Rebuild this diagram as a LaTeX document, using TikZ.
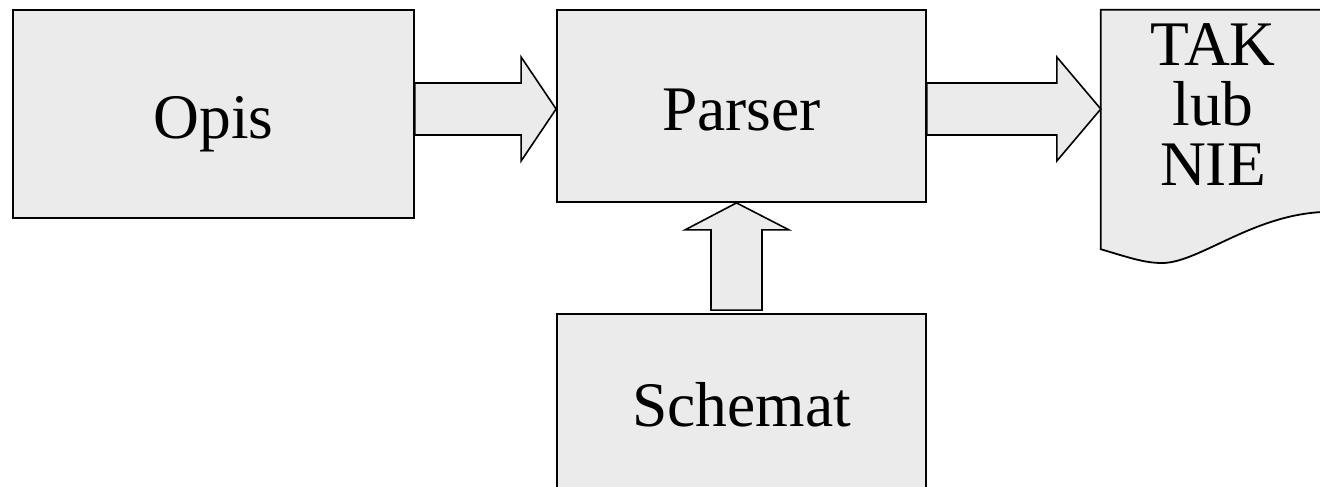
\documentclass[tikz,border=0pt]{standalone}
\usepackage{fontspec}
\setmainfont{Liberation Serif}
\usetikzlibrary{calc}
\definecolor{boxfill}{HTML}{EBEBEB}
\begin{document}
\begin{tikzpicture}[x=1pt,y=-1pt,
  bigfont/.style={font=\fontsize{63.5}{60}\selectfont},
  box/.style={draw=black, line width=1.8pt, fill=boxfill, rectangle, inner sep=0pt,
              text height=48pt, text depth=0pt, bigfont},
  blk/.style={draw=black, line width=1.6pt, fill=boxfill, line join=miter},
  lbl/.style={bigfont, inner sep=0pt, align=center}]
\useasboundingbox (0,0) rectangle (1320,487);

\node[box, minimum width=401pt, minimum height=208pt] (opis) at (213.5,114) {Opis};
\node[box, minimum width=369pt, minimum height=192pt] (parser) at (741.5,106) {Parser};
\node[box, minimum width=369pt, minimum height=176pt] (schemat) at (741.5,402) {Schemat};
\node[rectangle, inner sep=0pt, minimum width=229pt, minimum height=239pt] (doc) at (1215.5,129.5) {};

% document shape
\draw[box] (doc.south west) -- (doc.north west) -- (doc.north east)
  -- ($(doc.north east)+(0,202)$)
  .. controls (1255,212) and (1200,263) .. (1162,263)
  .. controls (1145,263) and (1130,258) .. (doc.south west) -- cycle;
\node[lbl, anchor=north] (dtext) at ($(doc.north)+(-2.5,14)$) {TAK\\lub\\NIE};

% block arrow Opis -> Parser
\draw[blk] let \p1=(opis.east), \p2=(parser.west) in
  (\x1,-83pt) -- (\x2-35pt,-83pt) -- (\x2-35pt,-57pt) -- (\x2,-109pt)
  -- (\x2-35pt,-161pt) -- (\x2-35pt,-135pt) -- (\x1,-135pt) -- cycle;

% block arrow Parser -> document
\draw[blk] let \p1=(parser.east), \p2=(doc.west) in
  (\x1,-83pt) -- (\x2-44pt,-83pt) -- (\x2-44pt,-57pt) -- (\x2,-109pt)
  -- (\x2-44pt,-161pt) -- (\x2-44pt,-135pt) -- (\x1,-135pt) -- cycle;

% block arrow Schemat -> Parser
\draw[blk] let \p1=(schemat.north), \p2=(parser.south) in
  (\x1-30.5pt,\y1+3pt) -- (\x1-30.5pt,\y2-27pt) -- (\x1-56.5pt,\y2-27pt) -- (\x1-5pt,\y2)
  -- (\x1+47.5pt,\y2-27pt) -- (\x1+20.5pt,\y2-27pt) -- (\x1+20.5pt,\y1+3pt) -- cycle;
\end{tikzpicture}
\end{document}
